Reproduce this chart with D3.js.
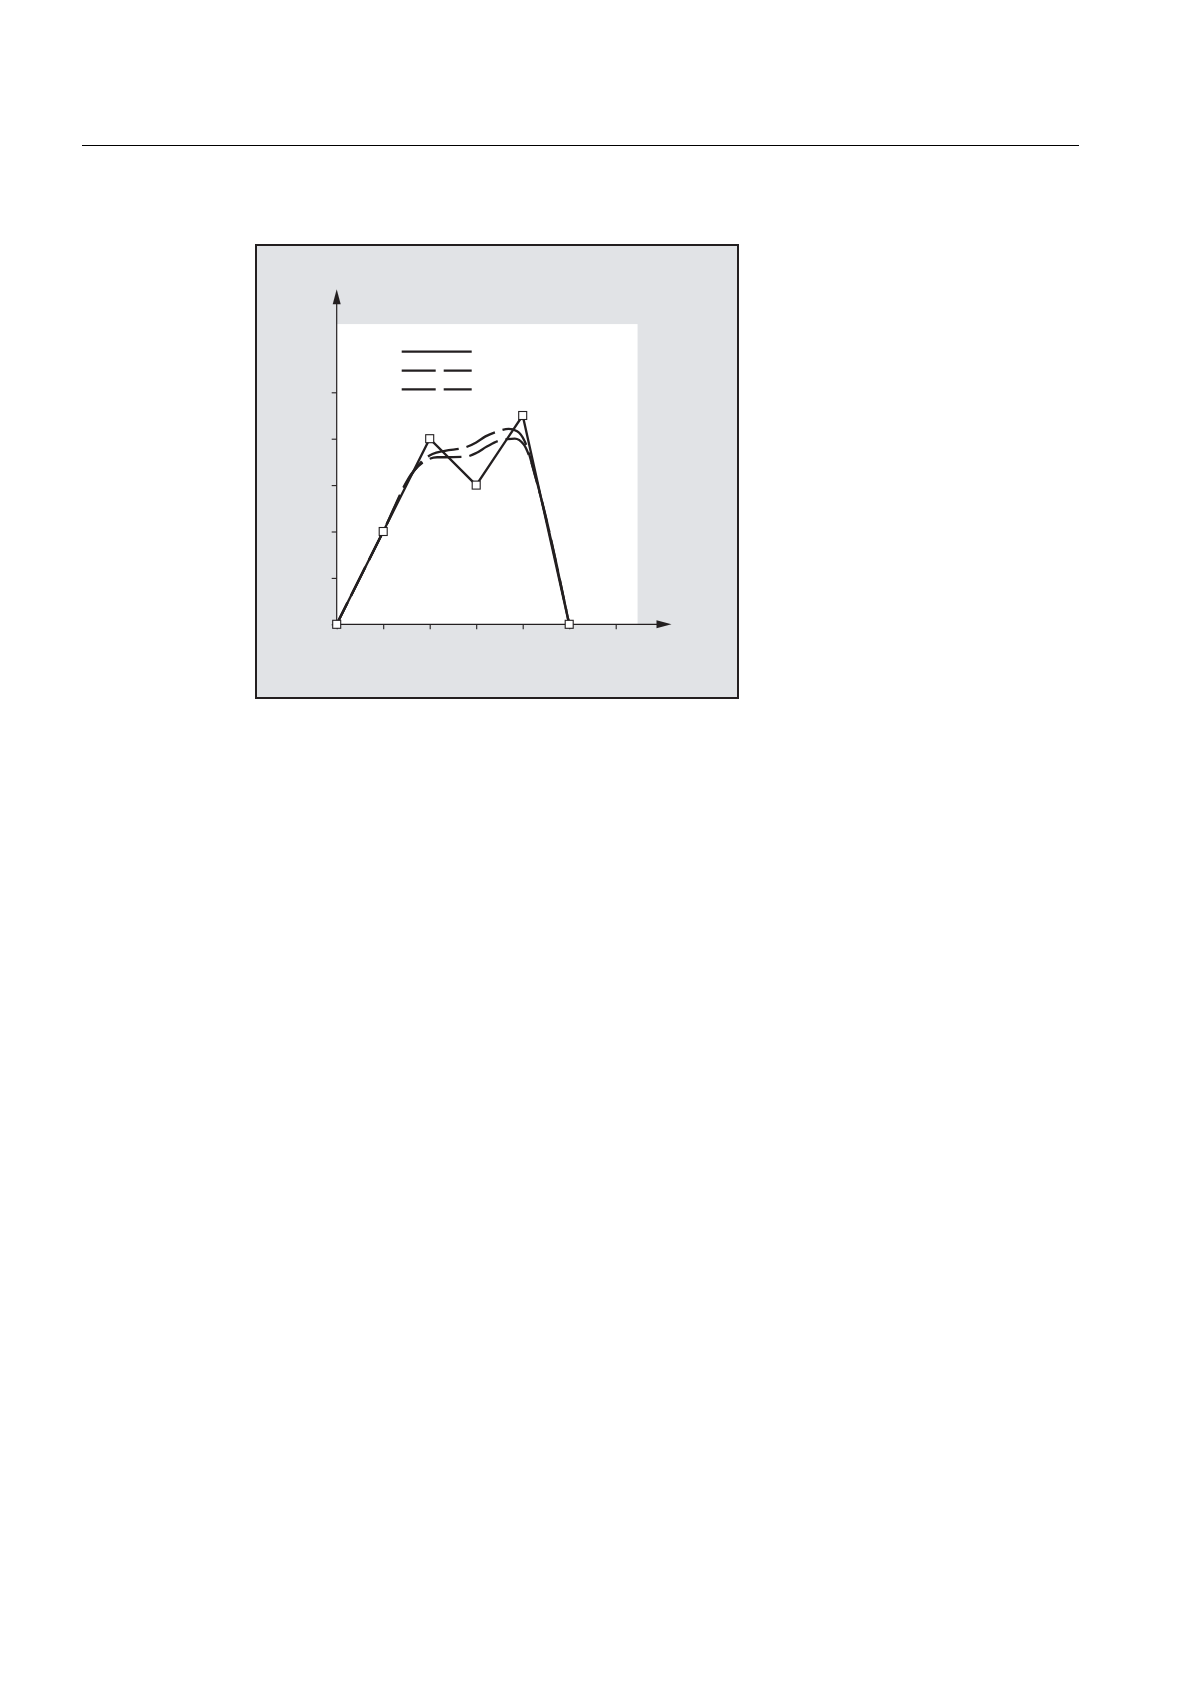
<!DOCTYPE html>
<html>
<head>
<meta charset="utf-8">
<script src="https://cdn.jsdelivr.net/npm/d3@7"></script>
<style>
  body { margin: 0; background: #fff; }
  svg { display: block; }
</style>
</head>
<body>
<svg id="chart" width="1190" height="1684"></svg>
<script>
// programmed contour (corner points)
const pointX = [0, 1, 2, 3, 4, 5]
const pointY = [0, 2, 4, 3, 4.5, 0]

// upper smoothed contour
const upperX = [0, 1, 1.62, 1.85, 2.06, 2.33, 2.76, 3.0, 3.2, 3.44, 3.7, 3.88, 4.04, 4.28, 5]
const upperY = [0, 2, 3.24, 3.53, 3.67, 3.74, 3.81, 3.92, 4.05, 4.15, 4.21, 4.16, 3.95, 3.15, 0]

// lower smoothed contour
const lowerX = [0, 1, 1.65, 1.9, 2.16, 2.33, 2.76, 3.0, 3.23, 3.5, 3.83, 4.02, 4.15, 4.35, 5]
const lowerY = [0, 2, 3.3, 3.52, 3.6, 3.6, 3.61, 3.69, 3.83, 3.96, 4.0, 3.88, 3.6, 2.9, 0]

const xTicks = [0, 1, 2, 3, 4, 5, 6]
const yTicks = [0, 1, 2, 3, 4, 5]

const svg = d3.select('#chart')

const ink = '#231f20'
const panel = { x: 256, y: 245, w: 482, h: 453 }

// page rule at the top
svg.append('line')
	.attr('x1', 82).attr('x2', 1079)
	.attr('y1', 145.5).attr('y2', 145.5)
	.attr('stroke', '#000').attr('stroke-width', 1.2)

// grey frame
svg.append('rect')
	.attr('x', panel.x).attr('y', panel.y)
	.attr('width', panel.w).attr('height', panel.h)
	.attr('fill', '#e1e3e6')
	.attr('stroke', ink).attr('stroke-width', 2)

const x = d3.scaleLinear().domain([0, 6]).range([336.7, 615.7])
const y = d3.scaleLinear().domain([0, 5]).range([624.3, 392.3])

// white plotting field
const fieldEnd = 6.47
svg.append('rect')
	.attr('x', x(0)).attr('y', y(fieldEnd))
	.attr('width', x(fieldEnd) - x(0))
	.attr('height', y(0) - y(fieldEnd))
	.attr('fill', '#fff')

// axes
svg.append('g')
	.attr('transform', `translate(0, ${y(0)})`)
	.call(d3.axisBottom(x).tickValues(xTicks).tickSize(5).tickSizeOuter(0).tickFormat(''))
svg.append('g')
	.attr('transform', `translate(${x(0)}, 0)`)
	.call(d3.axisLeft(y).tickValues(yTicks).tickSize(5).tickSizeOuter(0).tickFormat(''))

svg.selectAll('.domain').remove()
svg.selectAll('.tick line').attr('stroke', ink).attr('stroke-width', 1.1)

// axis lines with arrow heads
const xEnd = 7.2, yEnd = 7.22
svg.append('line')
	.attr('x1', x(0)).attr('x2', x(xEnd) - 10)
	.attr('y1', y(0)).attr('y2', y(0))
	.attr('stroke', ink).attr('stroke-width', 1.2)
svg.append('path')
	.attr('d', `M${x(xEnd)},${y(0)} L${x(xEnd) - 15},${y(0) - 4} L${x(xEnd) - 15},${y(0) + 4} Z`)
	.attr('fill', ink)
svg.append('line')
	.attr('x1', x(0)).attr('x2', x(0))
	.attr('y1', y(0)).attr('y2', y(yEnd) + 10)
	.attr('stroke', ink).attr('stroke-width', 1.2)
svg.append('path')
	.attr('d', `M${x(0)},${y(yEnd)} L${x(0) - 4},${y(yEnd) + 15} L${x(0) + 4},${y(yEnd) + 15} Z`)
	.attr('fill', ink)

// legend (labels are absent in the original)
const legend = svg.append('g').attr('transform', 'translate(401.7, 0)')
const legendRows = [
	{ y: 351.7, dash: null },
	{ y: 370.7, dash: '34,8' },
	{ y: 389.3, dash: '34,8' }
]
legend.selectAll('line')
	.data(legendRows)
	.enter()
	.append('line')
	.attr('x1', 0).attr('x2', 70)
	.attr('y1', d => d.y).attr('y2', d => d.y)
	.attr('stroke', ink)
	.attr('stroke-width', 2.2)
	.attr('stroke-dasharray', d => d.dash)

// contours
const smooth = d3.line()
	.x(d => x(d[0]))
	.y(d => y(d[1]))
	.curve(d3.curveMonotoneX)

const dashOn = 32, dashOff = 8

// shift the dash pattern so that a gap opens where the picture shows one
function alignGap(path, gapX) {
	const node = path.node()
	const total = node.getTotalLength()
	let len = 0
	while (len < total && node.getPointAtLength(len).x < x(gapX)) len += 0.5
	const period = dashOn + dashOff
	const offset = ((dashOn - len) % period + period) % period
	path.attr('stroke-dashoffset', -offset)
}

const upperPath = svg.append('path')
	.datum(d3.zip(upperX, upperY))
	.attr('d', smooth)
	.attr('fill', 'none')
	.attr('stroke', ink)
	.attr('stroke-width', 2.3)
	.attr('stroke-dasharray', `${dashOn},${dashOff}`)
alignGap(upperPath, 2.11)

const lowerPath = svg.append('path')
	.datum(d3.zip(lowerX, lowerY))
	.attr('d', smooth)
	.attr('fill', 'none')
	.attr('stroke', ink)
	.attr('stroke-width', 2.3)
	.attr('stroke-dasharray', `${dashOn},${dashOff}`)
alignGap(lowerPath, 2.16)

const straight = d3.line()
	.x(d => x(d[0]))
	.y(d => y(d[1]))

svg.append('path')
	.datum(d3.zip(pointX, pointY))
	.attr('d', straight)
	.attr('fill', 'none')
	.attr('stroke', ink)
	.attr('stroke-width', 2.3)

// corner markers
svg.selectAll('rect.pt')
	.data(d3.zip(pointX, pointY))
	.enter()
	.append('rect')
	.attr('class', 'pt')
	.attr('x', d => x(d[0]) - 4)
	.attr('y', d => y(d[1]) - 4)
	.attr('width', 8)
	.attr('height', 8)
	.attr('fill', '#fff')
	.attr('stroke', ink)
	.attr('stroke-width', 1.1)
</script>
</body>
</html>
